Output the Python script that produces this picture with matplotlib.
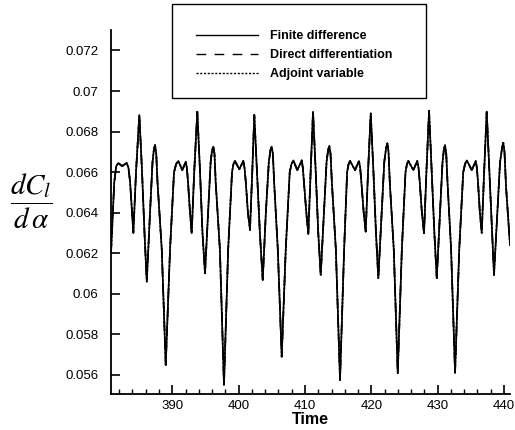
import matplotlib
matplotlib.use("Agg")
import matplotlib.pyplot as plt
from matplotlib.patches import Rectangle
from matplotlib.ticker import MultipleLocator, FixedLocator

plt.rcParams['font.family'] = ['Liberation Sans', 'DejaVu Sans']
plt.rcParams['mathtext.fontset'] = 'stix'

# ---- data, one row per oscillation cycle ----
time = [
    380.76, 381.25, 381.55, 381.86, 382.42, 383.13, 383.40, 383.64, 383.94, 384.13, 384.53,
    385.03, 385.44, 385.81, 386.15, 386.64, 387.02, 387.22, 387.40, 387.58, 387.77, 388.41, 389.01, 389.66, 390.26, 390.58, 390.91, 391.51, 392.03, 392.20, 392.37, 392.67, 392.92, 393.30,
    393.77, 394.18, 394.55, 394.93, 395.40, 395.78, 396.00, 396.18, 396.36, 396.54, 397.17, 397.79, 398.42, 399.00, 399.22, 399.45, 400.10, 400.70, 400.89, 401.08, 401.40, 401.71, 402.05,
    402.36, 402.77, 403.20, 403.63, 404.10, 404.55, 404.80, 404.98, 405.16, 405.35, 405.90, 406.49, 407.10, 407.70, 407.97, 408.24, 408.84, 409.51, 409.68, 409.85, 410.20, 410.50, 410.85,
    411.21, 411.62, 412.00, 412.37, 412.85, 413.25, 413.49, 413.67, 413.85, 414.05, 414.65, 415.28, 415.90, 416.35, 416.57, 416.79, 417.54, 418.14, 418.32, 418.50, 418.85, 419.15, 419.50,
    419.91, 420.32, 420.70, 421.05, 421.55, 421.95, 422.23, 422.41, 422.59, 422.78, 423.38, 423.98, 424.60, 425.15, 425.37, 425.58, 426.33, 426.93, 427.12, 427.30, 427.62, 427.94, 428.30,
    428.70, 429.11, 429.50, 429.86, 430.35, 430.73, 430.93, 431.11, 431.29, 431.48, 432.02, 432.62, 433.25, 433.85, 434.12, 434.38, 435.13, 435.74, 435.91, 436.08, 436.36, 436.64, 437.00,
    437.39, 437.80, 438.20, 438.49, 439.00, 439.40, 439.71, 439.89, 440.07, 440.30, 440.90,
]
cl_finite = [
    0.0620, 0.0655, 0.0663, 0.06645, 0.0663, 0.06645, 0.0662, 0.0655, 0.0640, 0.0630, 0.0660,
    0.06882, 0.0660, 0.0630, 0.0606, 0.0640, 0.0665, 0.0671, 0.06734, 0.0669, 0.0655, 0.0622, 0.05649, 0.0622, 0.0660, 0.0664, 0.06655, 0.0661, 0.06652, 0.0662, 0.0655, 0.0640, 0.06299, 0.0660,
    0.06898, 0.0660, 0.0630, 0.06101, 0.0640, 0.0665, 0.0671, 0.06726, 0.0669, 0.0655, 0.0622, 0.05551, 0.0622, 0.0660, 0.0664, 0.06655, 0.06614, 0.06655, 0.0662, 0.0655, 0.0640, 0.06315, 0.0660,
    0.06882, 0.0660, 0.0630, 0.06068, 0.0640, 0.0665, 0.0671, 0.06726, 0.0669, 0.0655, 0.0622, 0.05690, 0.0622, 0.0660, 0.0664, 0.06658, 0.0661, 0.06658, 0.0662, 0.0655, 0.0640, 0.06295, 0.0660,
    0.06898, 0.0660, 0.0630, 0.06093, 0.0640, 0.0665, 0.0671, 0.06729, 0.0669, 0.0655, 0.0622, 0.05575, 0.0622, 0.0660, 0.0664, 0.06655, 0.0661, 0.06655, 0.0662, 0.0655, 0.0640, 0.06307, 0.0660,
    0.06890, 0.0660, 0.0630, 0.06077, 0.0640, 0.0665, 0.0672, 0.06742, 0.0670, 0.0655, 0.0622, 0.05608, 0.0622, 0.0660, 0.0664, 0.06655, 0.0661, 0.06655, 0.0662, 0.0655, 0.0640, 0.06299, 0.0660,
    0.06903, 0.0660, 0.0630, 0.06077, 0.0640, 0.0665, 0.0671, 0.06734, 0.0669, 0.0655, 0.0622, 0.05611, 0.0622, 0.0660, 0.0664, 0.06658, 0.0661, 0.06655, 0.0662, 0.0655, 0.0640, 0.06300, 0.0660,
    0.06898, 0.0660, 0.0630, 0.06093, 0.0640, 0.0665, 0.0672, 0.06745, 0.0670, 0.0653, 0.0624,
]
cl_direct = list(cl_finite)
cl_adjoint = list(cl_finite)

series_labels = ["Finite difference", "Direct differentiation", "Adjoint variable"]
x_ticks = [390, 400, 410, 420, 430, 440]
y_ticks = [0.056, 0.058, 0.060, 0.062, 0.064, 0.066, 0.068, 0.070, 0.072]
y_tick_labels = ["0.056", "0.058", "0.06", "0.062", "0.064", "0.066", "0.068", "0.07", "0.072"]

# ---- figure ----
fig = plt.figure(figsize=(5.15, 4.30), dpi=100)
ax = fig.add_axes([111/515, 36/430, 399/515, 364/430])

l1, = ax.plot(time, cl_finite, color='black', lw=1.2, linestyle='-')
l2, = ax.plot(time, cl_direct, color='black', lw=1.2, linestyle=(0, (6, 5)))
l3, = ax.plot(time, cl_adjoint, color='black', lw=1.2, linestyle=(0, (1.3, 1.0)))

ax.set_xlim(380.76, 440.9)
ax.set_ylim(0.05506, 0.07301)

ax.xaxis.set_major_locator(FixedLocator(x_ticks))
ax.xaxis.set_minor_locator(MultipleLocator(2))
ax.set_yticks(y_ticks)
ax.set_yticklabels(y_tick_labels)

for s in ['top', 'right']:
    ax.spines[s].set_visible(False)
for s in ['left', 'bottom']:
    ax.spines[s].set_linewidth(1.3)

ax.tick_params(which='major', direction='in', length=6.5, width=1.2, labelsize=9.5)
ax.tick_params(axis='y', which='major', pad=9)
ax.tick_params(axis='x', which='major', pad=4)
ax.tick_params(which='minor', direction='in', length=3.5, width=1.0)
ax.tick_params(axis='y', which='minor', left=False)

ax.set_xlabel("Time", fontsize=11.5, fontweight='bold', labelpad=0)

fig.text(31/515, 1 - 201/430, r'$\dfrac{dC_l}{d\,\alpha}$', fontsize=21,
         ha='center', va='center')

# legend frame and entries
fig.patches.append(Rectangle((172/515, 1 - 98/430), 254/515, 94/430,
                             transform=fig.transFigure, fill=False,
                             edgecolor='black', linewidth=1.0))
leg = fig.legend([l1, l2, l3], series_labels, loc='center left',
                 bbox_to_anchor=(190/515, 1 - 55/430), frameon=False,
                 prop={'weight': 'bold', 'size': 9}, handlelength=4.9,
                 handletextpad=1.0, labelspacing=0.55, borderpad=0.0)
for h in leg.get_lines():
    h.set_linewidth(1.0)
leg.get_lines()[1].set_linestyle((0, (7, 6)))
leg.get_lines()[2].set_linestyle((0, (1.5, 1.2)))

fig.savefig("out.png", dpi=100)
